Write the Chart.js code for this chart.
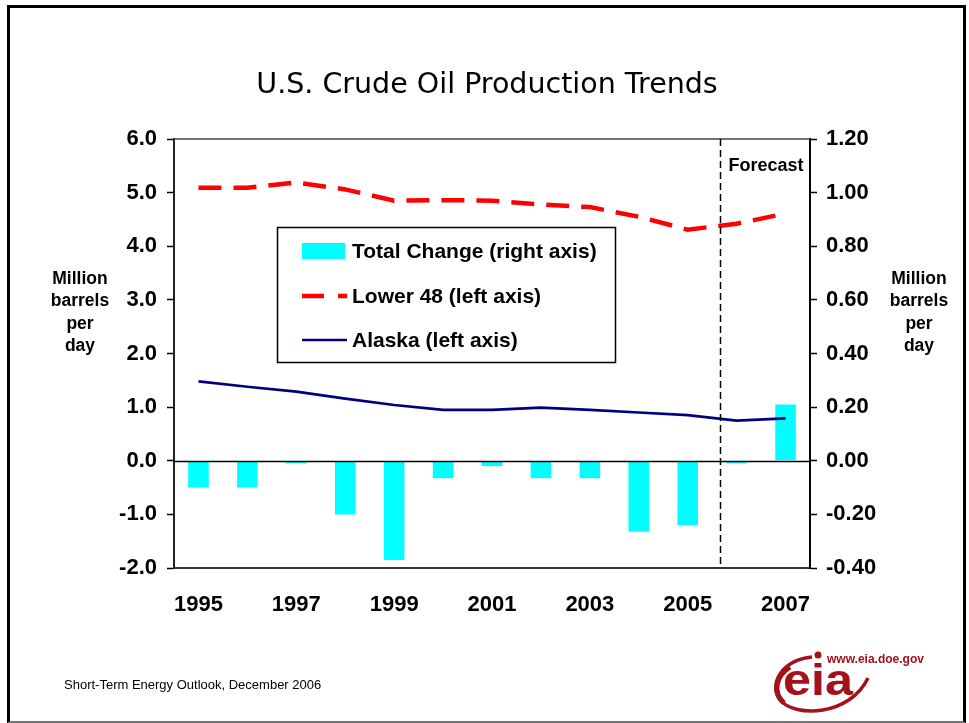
<!DOCTYPE html>
<html>
<head>
<meta charset="utf-8">
<script src="https://cdn.jsdelivr.net/npm/chart.js@4/dist/chart.umd.min.js"></script>
<style>
  html, body { margin: 0; padding: 0; background: #fff; }
  body { width: 969px; height: 723px; position: relative; overflow: hidden; font-family: 'Liberation Sans', Arial, sans-serif; }
  #frame { position: absolute; left: 7px; top: 5px; width: 953px; height: 713px; border: 3px solid #000; border-bottom: 2px solid #777; }
  #chart { position: absolute; left: 0; top: 0; }
  #title { position: absolute; left: 0; width: 974px; top: 67px; text-align: center; font-family: 'DejaVu Sans', sans-serif; font-size: 28.5px; color: #000; }
  .axisLabel { position: absolute; top: 267px; width: 100px; text-align: center; font-weight: bold; font-size: 17.5px; line-height: 22.4px; color: #000; }
  #leftLabel { left: 30px; }
  #rightLabel { left: 869px; }
  #footer { position: absolute; left: 64px; top: 677px; font-size: 13px; color: #000; }
  #logo { position: absolute; left: 0; top: 0; }
</style>
</head>
<body>
<div id="frame"></div>
<canvas id="chart" width="969" height="723"></canvas>
<div id="title">U.S. Crude Oil Production Trends</div>
<div class="axisLabel" id="leftLabel">Million<br>barrels<br>per<br>day</div>
<div class="axisLabel" id="rightLabel">Million<br>barrels<br>per<br>day</div>
<div id="footer">Short-Term Energy Outlook, December 2006</div>
<svg id="logo" width="969" height="723" viewBox="0 0 969 723">
  <path d="M 812 657 C 782 660, 768 684, 780 700 C 795 718, 850 716, 868 678" fill="none" stroke="#A3111A" stroke-width="3.5"/>
  <path d="M 790 667 C 776 676, 772 692, 784 703" fill="none" stroke="#A3111A" stroke-width="5"/>
  <circle cx="818" cy="655" r="3.5" fill="#A3111A"/>
  <text x="783" y="695" font-family="Liberation Sans, Arial, sans-serif" font-weight="bold" font-size="45" textLength="70" lengthAdjust="spacingAndGlyphs" fill="#A3111A">eia</text>
  <text x="827" y="663" font-family="Liberation Sans, Arial, sans-serif" font-weight="bold" font-size="12" fill="#A3111A">www.eia.doe.gov</text>
</svg>
<script>
// data
const years = ['1995', '1996', '1997', '1998', '1999', '2000', '2001', '2002', '2003', '2004', '2005', '2006', '2007'];
const totalChange = [-0.10, -0.10, -0.01, -0.20, -0.37, -0.065, -0.02, -0.065, -0.065, -0.265, -0.24, -0.01, 0.21];
const lower48 = [5.09, 5.09, 5.19, 5.06, 4.85, 4.86, 4.85, 4.78, 4.73, 4.55, 4.31, 4.42, 4.61];
const alaska = [1.48, 1.38, 1.29, 1.16, 1.04, 0.95, 0.95, 0.99, 0.95, 0.90, 0.85, 0.75, 0.79];
const leftRange = { min: -2, max: 6, step: 1 };
const rightRange = { min: -0.4, max: 1.2, step: 0.2 };
const forecastAt = 10.67; // divider between 2005 and 2006

const tickFont = { family: "'Liberation Sans', Arial, sans-serif", size: 22, weight: 'bold' };

const overlay = {
  id: 'overlay',
  afterDatasetsDraw(chart) {
    const { ctx, chartArea: a, scales } = chart;
    ctx.save();
    // top edge of plot box
    ctx.strokeStyle = '#444';
    ctx.lineWidth = 1.5;
    ctx.beginPath();
    ctx.moveTo(a.left, a.top);
    ctx.lineTo(a.right, a.top);
    ctx.stroke();
    // zero line
    const y0 = Math.round(scales.y.getPixelForValue(0)) + 0.5;
    ctx.strokeStyle = '#000';
    ctx.lineWidth = 1.5;
    ctx.beginPath();
    ctx.moveTo(a.left, y0);
    ctx.lineTo(a.right, y0);
    ctx.stroke();
    // forecast divider
    const fx = Math.round(scales.x.getPixelForValue(forecastAt)) + 0.5;
    ctx.setLineDash([7, 4]);
    ctx.lineWidth = 1.5;
    ctx.beginPath();
    ctx.moveTo(fx, a.top);
    ctx.lineTo(fx, a.bottom);
    ctx.stroke();
    ctx.setLineDash([]);
    ctx.fillStyle = '#000';
    ctx.font = "bold 18px 'Liberation Sans', Arial, sans-serif";
    ctx.textBaseline = 'middle';
    ctx.textAlign = 'left';
    ctx.fillText('Forecast', fx + 8, 166);

    // legend box
    const bx = 277, by = 227, bw = 338, bh = 135;
    ctx.fillStyle = '#fff';
    ctx.fillRect(bx, by, bw, bh);
    ctx.strokeStyle = '#000';
    ctx.lineWidth = 1.5;
    ctx.strokeRect(bx + 0.5, by + 0.5, bw, bh);
    const ds = chart.data.datasets;
    const rows = [251, 296, 340];
    const sx = 302;
    ctx.font = "bold 21px 'Liberation Sans', Arial, sans-serif";
    ds.forEach((d, i) => {
      const ry = rows[i];
      if (d.type === 'bar') {
        ctx.fillStyle = d.backgroundColor;
        ctx.fillRect(sx, ry - 8, 43, 16);
      } else {
        ctx.strokeStyle = d.borderColor;
        ctx.lineWidth = d.borderWidth;
        ctx.setLineDash(d.borderDash ? [22, 14] : []);
        ctx.beginPath();
        ctx.moveTo(sx, ry);
        ctx.lineTo(sx + 45, ry);
        ctx.stroke();
        ctx.setLineDash([]);
      }
      ctx.fillStyle = '#000';
      ctx.fillText(d.label, 352, ry + 1);
    });
    ctx.restore();
  }
};

new Chart(document.getElementById('chart'), {
  data: {
    labels: years,
    datasets: [
      {
        type: 'bar',
        label: 'Total Change (right axis)',
        data: totalChange,
        yAxisID: 'y1',
        backgroundColor: '#00FFFF',
        borderWidth: 0,
        categoryPercentage: 1,
        barPercentage: 0.42,
        order: 3,
      },
      {
        type: 'line',
        label: 'Lower 48 (left axis)',
        data: lower48,
        yAxisID: 'y',
        borderColor: '#FF0000',
        borderWidth: 4.5,
        borderDash: [23, 12],
        borderCapStyle: 'butt',
        pointRadius: 0,
        tension: 0,
        order: 1,
      },
      {
        type: 'line',
        label: 'Alaska (left axis)',
        data: alaska,
        yAxisID: 'y',
        borderColor: '#000080',
        borderWidth: 2.7,
        pointRadius: 0,
        tension: 0,
        order: 2,
      },
    ],
  },
  options: {
    responsive: false,
    animation: false,
    devicePixelRatio: 1,
    layout: { padding: { left: 60, right: 60, top: 139, bottom: 0 } },
    plugins: {
      legend: { display: false },
      tooltip: { enabled: false },
      title: { display: false },
    },
    scales: {
      x: {
        offset: true,
        grid: { display: false, drawTicks: false },
        border: { display: true, color: '#333', width: 2 },
        ticks: {
          autoSkip: false,
          maxRotation: 0,
          padding: 24,
          color: '#000',
          font: tickFont,
          callback: (v, i) => (i % 2 === 0 ? years[i] : ''),
        },
        afterFit: (s) => { s.height = 155; },
      },
      y: {
        position: 'left',
        min: leftRange.min,
        max: leftRange.max,
        grid: { drawOnChartArea: false, tickLength: 7, tickColor: '#000', tickWidth: 1.5 },
        border: { display: true, color: '#222', width: 2 },
        ticks: {
          stepSize: leftRange.step,
          padding: 10,
          color: '#000',
          font: tickFont,
          callback: (v) => Number(v).toFixed(1),
        },
        afterFit: (s) => { s.width = 114; },
      },
      y1: {
        position: 'right',
        min: rightRange.min,
        max: rightRange.max,
        grid: { drawOnChartArea: false, tickLength: 7, tickColor: '#000', tickWidth: 1.5 },
        border: { display: true, color: '#000', width: 2 },
        ticks: {
          stepSize: rightRange.step,
          padding: 9,
          color: '#000',
          font: tickFont,
          callback: (v) => Number(v).toFixed(2),
        },
        afterFit: (s) => { s.width = 99; },
      },
    },
  },
  plugins: [overlay],
});
</script>
</body>
</html>
